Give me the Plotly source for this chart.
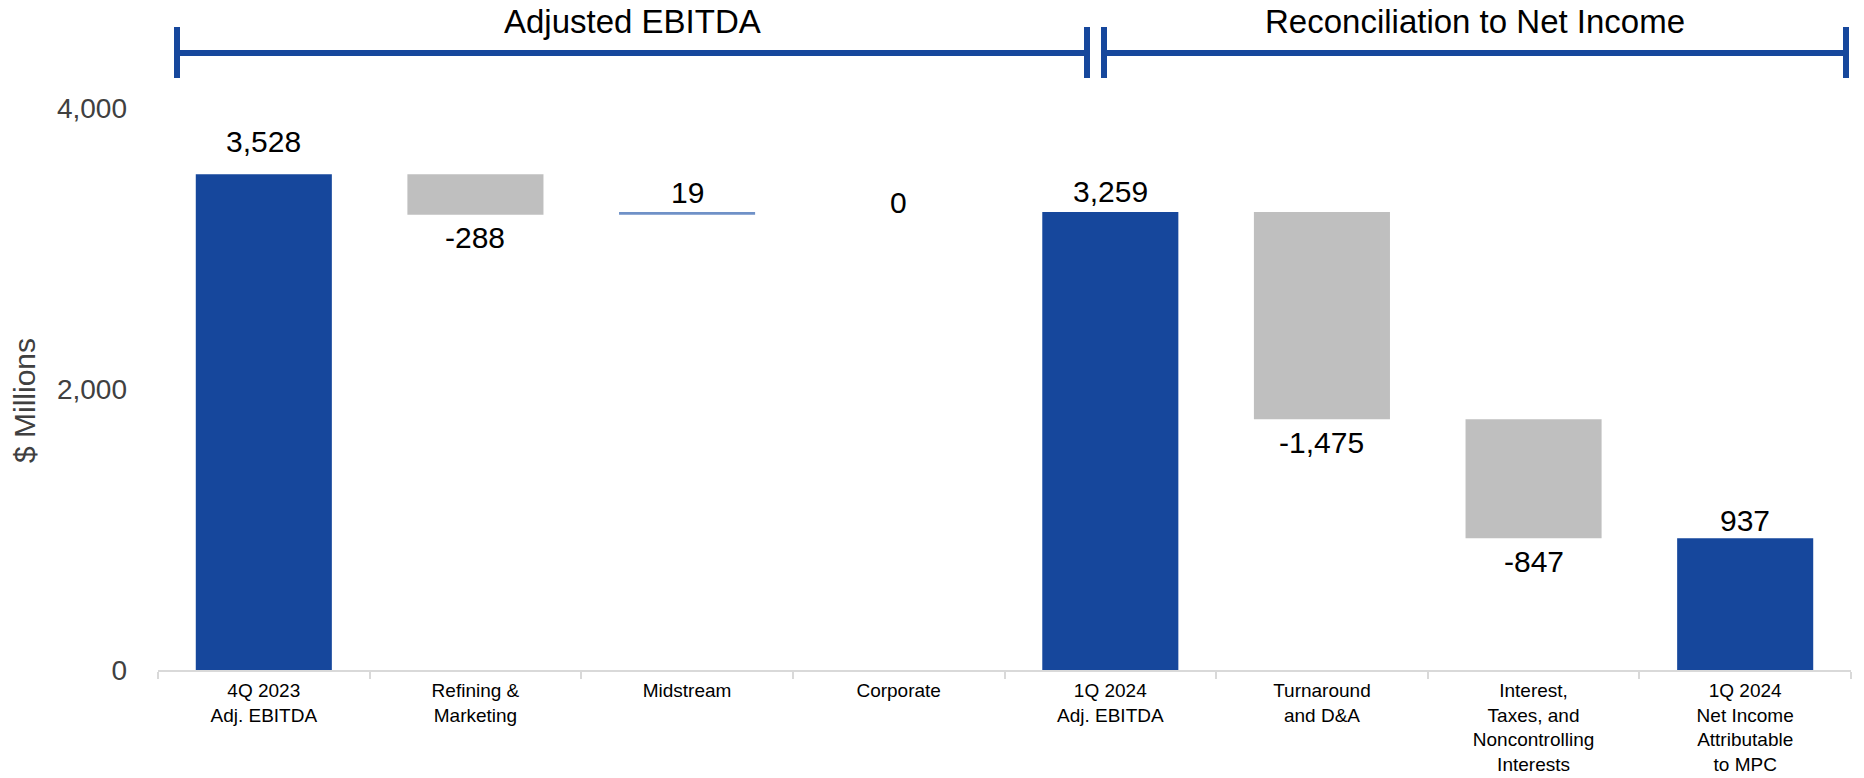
import plotly.graph_objects as go

# ---- data -------------------------------------------------------------
categories = [
    "4Q 2023<br>Adj. EBITDA",
    "Refining &<br>Marketing",
    "Midstream",
    "Corporate",
    "1Q 2024<br>Adj. EBITDA",
    "Turnaround<br>and D&A",
    "Interest,<br>Taxes, and<br>Noncontrolling<br>Interests",
    "1Q 2024<br>Net Income<br>Attributable<br>to MPC",
]
measures = ["absolute", "relative", "relative", "relative",
            "total", "relative", "relative", "total"]
deltas = [3528, -288, 19, 0, None, -1475, -847, None]

y_ticks = [0, 2000, 4000]
section_titles = ["Adjusted EBITDA", "Reconciliation to Net Income"]

# ---- styling ----------------------------------------------------------
BLUE = "#16479C"
GRAY = "#BFBFBF"
LIGHT_BLUE = "#6F91C7"
W, H = 1864, 778
M_L, M_R, M_T, M_B = 158, 13, 108, 108
PLOT_W = W - M_L - M_R
PLOT_H = H - M_T - M_B

# label distance (px) from the end of each bar
label_gap = [33, 23, 20, 10, 21, 23, 23, 18]


def px_to_paper_y(py):
    return (H - M_B - py) / PLOT_H


def px_to_paper_x(px):
    return (px - M_L) / PLOT_W


# ---- running totals -> floating bars ------------------------------------
bases, heights, colors, label_vals, label_y, above = [], [], [], [], [], []
running = 0
for m, d in zip(measures, deltas):
    if m == "absolute":
        running = d
        bases.append(0); heights.append(d); colors.append(BLUE)
        label_vals.append(d); label_y.append(d); above.append(True)
    elif m == "total":
        bases.append(0); heights.append(running); colors.append(BLUE)
        label_vals.append(running); label_y.append(running); above.append(True)
    else:
        bases.append(running); heights.append(d)
        colors.append(GRAY if d < 0 else LIGHT_BLUE)
        label_vals.append(d)
        running += d
        label_y.append(running)
        above.append(d >= 0)

fig = go.Figure()
fig.add_trace(go.Bar(
    x=categories, y=heights, base=bases,
    marker=dict(color=colors, line=dict(width=0)),
    width=0.643, hoverinfo="skip", showlegend=False,
))

# value labels
for cat, v, yv, up, gap in zip(categories, label_vals, label_y, above, label_gap):
    fig.add_annotation(
        x=cat, y=yv, xref="x", yref="y",
        text=f"{v:,}", showarrow=False,
        yanchor="middle", yshift=gap if up else -gap,
        font=dict(family="Arial, Liberation Sans", size=30, color="#000000"),
    )

# section brackets across the top
brackets = [(177, 1087), (1104, 1846)]
for (x0, x1), title in zip(brackets, section_titles):
    fig.add_shape(type="line", xref="paper", yref="paper",
                  x0=px_to_paper_x(x0), x1=px_to_paper_x(x1),
                  y0=px_to_paper_y(53), y1=px_to_paper_y(53),
                  line=dict(color=BLUE, width=6))
    for xe in (x0, x1):
        fig.add_shape(type="line", xref="paper", yref="paper",
                      x0=px_to_paper_x(xe), x1=px_to_paper_x(xe),
                      y0=px_to_paper_y(27), y1=px_to_paper_y(78),
                      line=dict(color=BLUE, width=6))
    fig.add_annotation(
        x=px_to_paper_x((x0 + x1) / 2), y=px_to_paper_y(21),
        xref="paper", yref="paper", showarrow=False,
        xanchor="center", yanchor="middle", text=title,
        font=dict(family="Arial, Liberation Sans", size=33, color="#000000"),
    )

# y-axis title
fig.add_annotation(
    x=px_to_paper_x(25), y=px_to_paper_y(401), xref="paper", yref="paper",
    text="$ Millions", textangle=-90, showarrow=False,
    xanchor="center", yanchor="middle",
    font=dict(family="Arial, Liberation Sans", size=30, color="#404040"),
)

fig.update_layout(
    width=W, height=H,
    margin=dict(l=M_L, r=M_R, t=M_T, b=M_B, pad=0),
    paper_bgcolor="white", plot_bgcolor="white",
    bargap=0.357,
    xaxis=dict(
        type="category", categoryorder="array", categoryarray=categories,
        automargin=False,
        showline=True, linecolor="#D9D9D9", linewidth=2,
        ticks="outside", tickson="boundaries", ticklen=7,
        tickcolor="#D9D9D9", tickwidth=2, ticklabelstandoff=2,
        showgrid=False, zeroline=False,
        tickfont=dict(family="Arial, Liberation Sans", size=19, color="#000000"),
    ),
    yaxis=dict(
        range=[0, 4000], tickvals=y_ticks, tickformat=",",
        automargin=False,
        showgrid=False, zeroline=False, showline=False,
        ticks="", ticklabelstandoff=30,
        tickfont=dict(family="Arial, Liberation Sans", size=28, color="#404040"),
    ),
)

fig.write_html("out.html")
